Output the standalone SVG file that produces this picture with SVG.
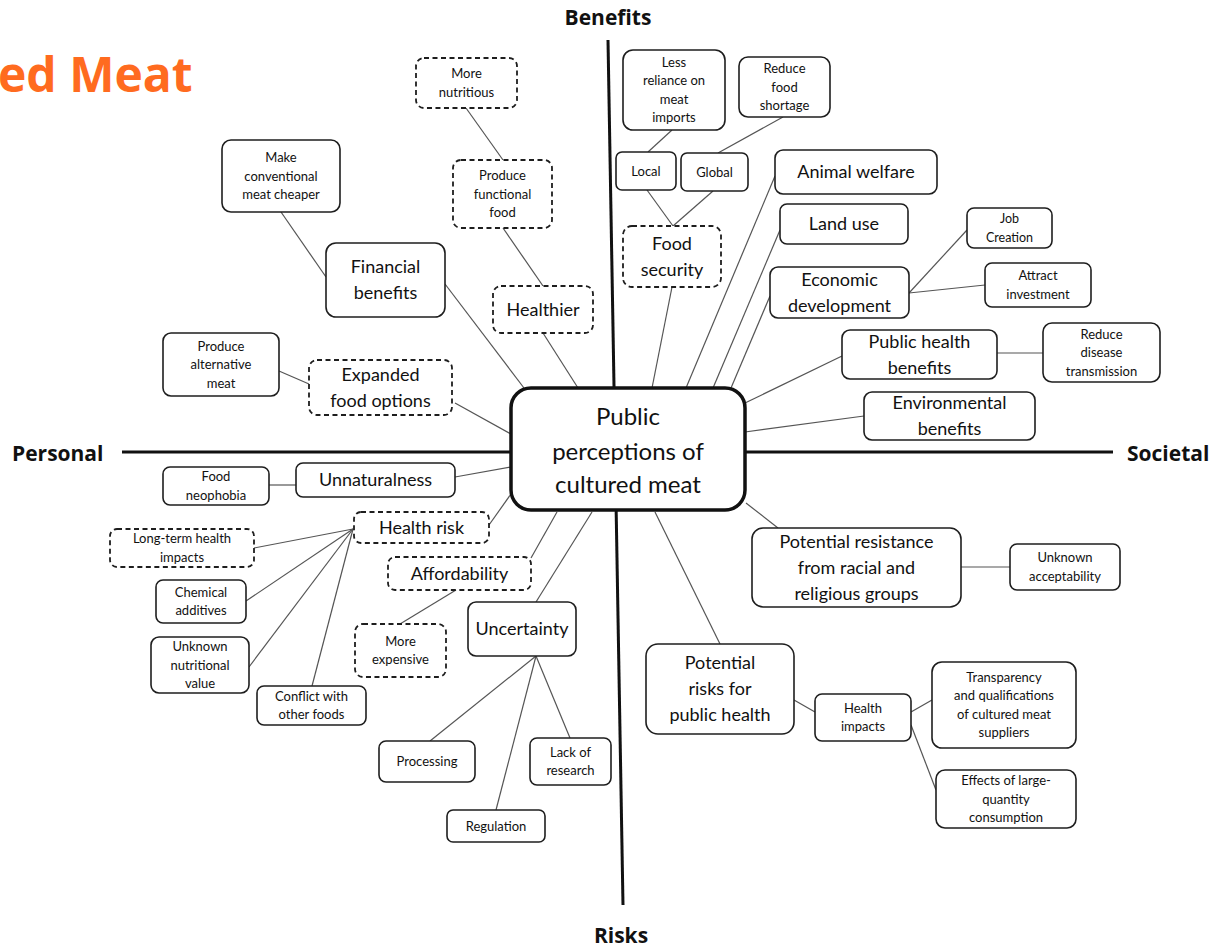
<svg xmlns="http://www.w3.org/2000/svg" width="1217" height="948" viewBox="0 0 1217 948">
<style>
.bx{fill:#fff;stroke:#1e1e1e;stroke-width:1.6}
.ds{fill:#fff;stroke:#1e1e1e;stroke-width:1.8;stroke-dasharray:5 3.5}
.t{font-family:Lato,"Open Sans",sans-serif;fill:#111;text-anchor:middle}
.s{font-size:13px}
.m{font-size:18px}
.ax{font-family:"Open Sans",sans-serif;font-weight:700;font-size:21px;fill:#111}
.cn line{stroke:#555;stroke-width:1.2}
</style>
<rect width="1217" height="948" fill="#fff"/>
<text x="-2" y="92" font-family="'Open Sans',sans-serif" font-weight="700" font-size="48" fill="#FF6B1F">ed Meat</text>
<g id="axes" stroke="#111" stroke-width="3">
<line x1="608" y1="40" x2="623" y2="905"/>
<line x1="122" y1="452" x2="1113" y2="452"/>
</g>
<text class="ax" x="608" y="25" text-anchor="middle">Benefits</text>
<text class="ax" x="12" y="461">Personal</text>
<text class="ax" x="1127" y="461">Societal</text>
<text class="ax" x="621" y="943" text-anchor="middle">Risks</text>
<g class="cn" id="connectors">
<line x1="466" y1="108" x2="503" y2="160"/>
<line x1="503" y1="228" x2="543" y2="286"/>
<line x1="543" y1="333" x2="578" y2="388"/>
<line x1="281" y1="212" x2="326" y2="277"/>
<line x1="445" y1="284" x2="524" y2="388"/>
<line x1="279" y1="371" x2="309" y2="384"/>
<line x1="455" y1="403" x2="511" y2="434"/>
<line x1="672" y1="130" x2="648" y2="152"/>
<line x1="783" y1="117" x2="718" y2="153"/>
<line x1="647" y1="190" x2="673" y2="226"/>
<line x1="713" y1="191" x2="673" y2="226"/>
<line x1="672" y1="287" x2="652" y2="388"/>
<line x1="775" y1="176" x2="686" y2="388"/>
<line x1="780" y1="230" x2="713" y2="388"/>
<line x1="770" y1="296" x2="731" y2="388"/>
<line x1="909" y1="293" x2="967" y2="230"/>
<line x1="909" y1="293" x2="985" y2="285"/>
<line x1="842" y1="356" x2="745" y2="403"/>
<line x1="997" y1="353" x2="1043" y2="353"/>
<line x1="864" y1="416" x2="745" y2="432"/>
<line x1="269" y1="485" x2="296" y2="485"/>
<line x1="455" y1="477" x2="511" y2="467"/>
<line x1="489" y1="525" x2="511" y2="494"/>
<line x1="353" y1="529" x2="254" y2="548"/>
<line x1="353" y1="529" x2="246" y2="601"/>
<line x1="353" y1="529" x2="249" y2="667"/>
<line x1="353" y1="529" x2="312" y2="686"/>
<line x1="557" y1="512" x2="531" y2="558"/>
<line x1="592" y1="512" x2="536" y2="602"/>
<line x1="456" y1="590" x2="400" y2="624"/>
<line x1="536" y1="656" x2="430" y2="741"/>
<line x1="536" y1="656" x2="496" y2="810"/>
<line x1="536" y1="656" x2="570" y2="738"/>
<line x1="746" y1="503" x2="778" y2="528"/>
<line x1="655" y1="512" x2="720" y2="644"/>
<line x1="961" y1="567" x2="1010" y2="567"/>
<line x1="794" y1="700" x2="815" y2="712"/>
<line x1="911" y1="712" x2="932" y2="700"/>
<line x1="911" y1="725" x2="936" y2="790"/>
</g>
<g id="center">
<rect x="511" y="388" width="234" height="122" rx="20" fill="#fff" stroke="#111" stroke-width="3.5"/>
<text class="t" font-size="24" x="628"><tspan x="628" y="425">Public</tspan><tspan x="628" y="460">perceptions of</tspan><tspan x="628" y="493">cultured meat</tspan></text>
</g>
<g id="more-nutritious"><rect class="ds" x="416" y="58" width="101" height="50" rx="8"/><text class="t s"><tspan x="466.5" y="78">More</tspan><tspan x="466.5" y="97">nutritious</tspan></text></g>
<g id="functional-food"><rect class="ds" x="453" y="160" width="99" height="68" rx="8"/><text class="t s"><tspan x="502.5" y="180">Produce</tspan><tspan x="502.5" y="198.5">functional</tspan><tspan x="502.5" y="217">food</tspan></text></g>
<g id="make-cheaper"><rect class="bx" x="222" y="140" width="118" height="72" rx="9"/><text class="t s"><tspan x="281" y="162">Make</tspan><tspan x="281" y="180.5">conventional</tspan><tspan x="281" y="199">meat cheaper</tspan></text></g>
<g id="financial"><rect class="bx" x="326" y="243" width="119" height="74" rx="10"/><text class="t m"><tspan x="385.5" y="273.3">Financial</tspan><tspan x="385.5" y="299.3">benefits</tspan></text></g>
<g id="healthier"><rect class="ds" x="493" y="286" width="100" height="47" rx="8"/><text class="t m" x="543" y="316">Healthier</text></g>
<g id="alt-meat"><rect class="bx" x="163" y="333" width="116" height="63" rx="8"/><text class="t s"><tspan x="221" y="350.5">Produce</tspan><tspan x="221" y="369">alternative</tspan><tspan x="221" y="387.5">meat</tspan></text></g>
<g id="expanded"><rect class="ds" x="309" y="360" width="143" height="55" rx="8"/><text class="t m"><tspan x="380.5" y="381">Expanded</tspan><tspan x="380.5" y="407">food options</tspan></text></g>
<g id="less-reliance"><rect class="bx" x="623" y="50" width="102" height="80" rx="10"/><text class="t s"><tspan x="674" y="66.8">Less</tspan><tspan x="674" y="85.3">reliance on</tspan><tspan x="674" y="103.8">meat</tspan><tspan x="674" y="122.3">imports</tspan></text></g>
<g id="reduce-shortage"><rect class="bx" x="739" y="57" width="91" height="60" rx="9"/><text class="t s"><tspan x="784.5" y="73">Reduce</tspan><tspan x="784.5" y="91.5">food</tspan><tspan x="784.5" y="110">shortage</tspan></text></g>
<g id="local"><rect class="bx" x="616" y="152" width="60" height="38" rx="6"/><text class="t s" x="646" y="175.5">Local</text></g>
<g id="global"><rect class="bx" x="681" y="153" width="67" height="38" rx="6"/><text class="t s" x="714.5" y="176.5">Global</text></g>
<g id="food-security"><rect class="ds" x="623" y="226" width="98" height="61" rx="9"/><text class="t m"><tspan x="672" y="249.8">Food</tspan><tspan x="672" y="275.8">security</tspan></text></g>
<g id="animal-welfare"><rect class="bx" x="775" y="150" width="162" height="44" rx="8"/><text class="t m" x="856" y="178.3">Animal welfare</text></g>
<g id="land-use"><rect class="bx" x="780" y="204" width="128" height="40" rx="7"/><text class="t m" x="844" y="230.3">Land use</text></g>
<g id="job-creation"><rect class="bx" x="967" y="208" width="85" height="40" rx="7"/><text class="t" font-size="12.5"><tspan x="1009.5" y="223">Job</tspan><tspan x="1009.5" y="241.5">Creation</tspan></text></g>
<g id="economic"><rect class="bx" x="770" y="267" width="139" height="51" rx="8"/><text class="t m"><tspan x="839.5" y="285.8">Economic</tspan><tspan x="839.5" y="311.8">development</tspan></text></g>
<g id="attract"><rect class="bx" x="985" y="263" width="106" height="44" rx="7"/><text class="t s"><tspan x="1038" y="280">Attract</tspan><tspan x="1038" y="298.5">investment</tspan></text></g>
<g id="public-health-benefits"><rect class="bx" x="842" y="330" width="155" height="49" rx="8"/><text class="t m"><tspan x="919.5" y="347.8">Public health</tspan><tspan x="919.5" y="373.8">benefits</tspan></text></g>
<g id="reduce-disease"><rect class="bx" x="1043" y="323" width="117" height="59" rx="9"/><text class="t s"><tspan x="1101.5" y="338.5">Reduce</tspan><tspan x="1101.5" y="357">disease</tspan><tspan x="1101.5" y="375.5">transmission</tspan></text></g>
<g id="environmental"><rect class="bx" x="864" y="392" width="171" height="48" rx="8"/><text class="t m"><tspan x="949.5" y="409.3">Environmental</tspan><tspan x="949.5" y="435.3">benefits</tspan></text></g>
<g id="neophobia"><rect class="bx" x="163" y="467" width="106" height="38" rx="7"/><text class="t s"><tspan x="216" y="481">Food</tspan><tspan x="216" y="499.5">neophobia</tspan></text></g>
<g id="unnaturalness"><rect class="bx" x="296" y="463" width="159" height="34" rx="7"/><text class="t m" x="375.5" y="486.3">Unnaturalness</text></g>
<g id="health-risk"><rect class="ds" x="354" y="512" width="135" height="31" rx="7"/><text class="t m" x="421.5" y="533.8">Health risk</text></g>
<g id="long-term"><rect class="ds" x="110" y="529" width="144" height="38" rx="7"/><text class="t s"><tspan x="182" y="543">Long-term health</tspan><tspan x="182" y="561.5">impacts</tspan></text></g>
<g id="chemical"><rect class="bx" x="156" y="580" width="90" height="43" rx="7"/><text class="t s"><tspan x="201" y="596.5">Chemical</tspan><tspan x="201" y="615">additives</tspan></text></g>
<g id="unknown-nutritional"><rect class="bx" x="151" y="637" width="98" height="56" rx="8"/><text class="t s"><tspan x="200" y="651">Unknown</tspan><tspan x="200" y="669.5">nutritional</tspan><tspan x="200" y="688">value</tspan></text></g>
<g id="conflict"><rect class="bx" x="257" y="686" width="109" height="39" rx="7"/><text class="t s"><tspan x="311.5" y="700.5">Conflict with</tspan><tspan x="311.5" y="719">other foods</tspan></text></g>
<g id="affordability"><rect class="ds" x="388" y="557" width="143" height="33" rx="7"/><text class="t m" x="459.5" y="579.8">Affordability</text></g>
<g id="more-expensive"><rect class="ds" x="355" y="624" width="91" height="53" rx="8"/><text class="t s"><tspan x="400.5" y="645.5">More</tspan><tspan x="400.5" y="664">expensive</tspan></text></g>
<g id="uncertainty"><rect class="bx" x="468" y="602" width="108" height="54" rx="8"/><text class="t m" x="522" y="635.3">Uncertainty</text></g>
<g id="processing"><rect class="bx" x="379" y="741" width="96" height="41" rx="7"/><text class="t s" x="427" y="766">Processing</text></g>
<g id="lack-research"><rect class="bx" x="530" y="738" width="81" height="47" rx="7"/><text class="t s"><tspan x="570.5" y="756.5">Lack of</tspan><tspan x="570.5" y="775">research</tspan></text></g>
<g id="regulation"><rect class="bx" x="447" y="810" width="98" height="32" rx="6"/><text class="t s" x="496" y="830.5">Regulation</text></g>
<g id="resistance"><rect class="bx" x="752" y="528" width="209" height="79" rx="11"/><text class="t m"><tspan x="856.5" y="547.8">Potential resistance</tspan><tspan x="856.5" y="573.8">from racial and</tspan><tspan x="856.5" y="599.8">religious groups</tspan></text></g>
<g id="unknown-acceptability"><rect class="bx" x="1010" y="544" width="110" height="46" rx="7"/><text class="t s"><tspan x="1065" y="562">Unknown</tspan><tspan x="1065" y="580.5">acceptability</tspan></text></g>
<g id="risks-public-health"><rect class="bx" x="646" y="644" width="148" height="90" rx="12"/><text class="t m"><tspan x="720" y="669.3">Potential</tspan><tspan x="720" y="695.3">risks for</tspan><tspan x="720" y="721.3">public health</tspan></text></g>
<g id="health-impacts"><rect class="bx" x="815" y="694" width="96" height="47" rx="7"/><text class="t s"><tspan x="863" y="712.5">Health</tspan><tspan x="863" y="731">impacts</tspan></text></g>
<g id="transparency"><rect class="bx" x="932" y="662" width="144" height="86" rx="10"/><text class="t s"><tspan x="1004" y="681.5">Transparency</tspan><tspan x="1004" y="700">and qualifications</tspan><tspan x="1004" y="718.5">of cultured meat</tspan><tspan x="1004" y="737">suppliers</tspan></text></g>
<g id="effects"><rect class="bx" x="936" y="770" width="140" height="58" rx="9"/><text class="t s"><tspan x="1006" y="785">Effects of large-</tspan><tspan x="1006" y="803.5">quantity</tspan><tspan x="1006" y="822">consumption</tspan></text></g>
</svg>
